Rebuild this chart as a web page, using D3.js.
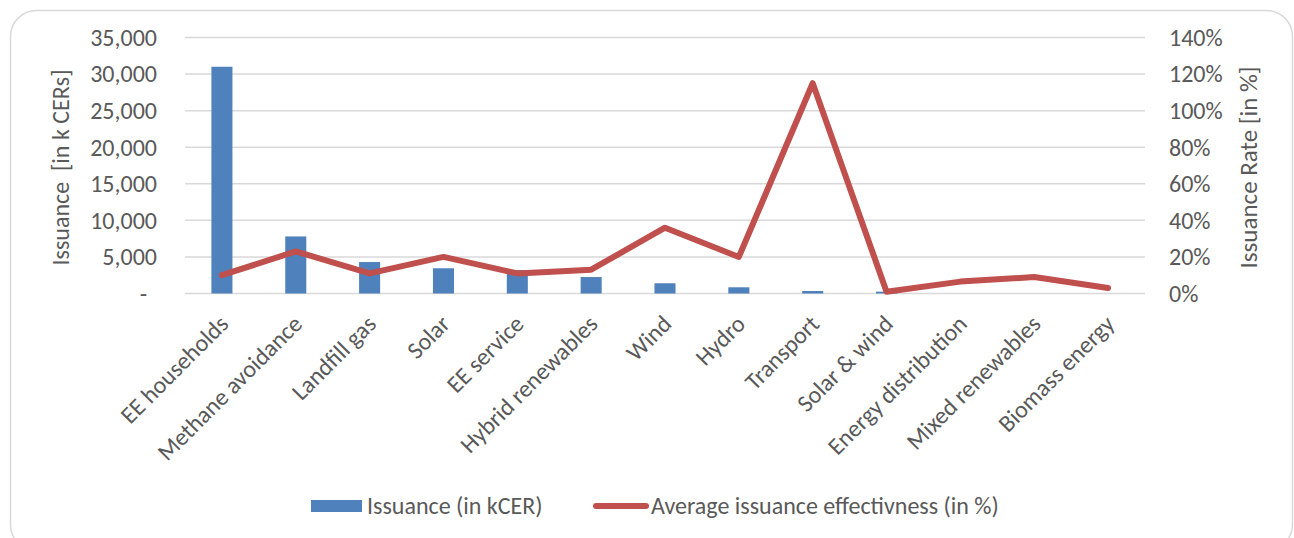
<!DOCTYPE html>
<html>
<head>
<meta charset="utf-8">
<script src="https://cdn.jsdelivr.net/npm/d3@7"></script>
<style>
  html, body { margin: 0; padding: 0; background: #ffffff; }
  svg text { font-family: Carlito, Calibri, Lato, "Open Sans", sans-serif; fill: #595959; }
</style>
</head>
<body>
<svg id="chart" width="1294" height="538"></svg>
<script>
// Sector categories along the x axis
const categories = [
  "EE households", "Methane avoidance", "Landfill gas", "Solar", "EE service",
  "Hybrid renewables", "Wind", "Hydro", "Transport", "Solar & wind",
  "Energy distribution", "Mixed renewables", "Biomass energy"
];

// Issuance per sector, in thousand CERs (left axis)
const issuance = [31000, 7800, 4300, 3450, 3200, 2250, 1400, 850, 340, 250, 0, 0, 0];

// Average issuance effectiveness per sector, in % (right axis)
const effectiveness = [10, 23, 11, 20, 11, 13, 36, 20, 115, 1, 6.5, 9, 3];

// Axis ticks
const leftTicks = [0, 5000, 10000, 15000, 20000, 25000, 30000, 35000];
const rightTicks = [0, 20, 40, 60, 80, 100, 120, 140];

const seriesNames = ["Issuance (in kCER)", "Average issuance effectivness (in %)"];
const axisTitles = ["Issuance  [in k CERs]", "Issuance Rate [in %]"];

const barColor = "#4f81bd";
const lineColor = "#c0504d";
const gridColor = "#d9d9d9";

const svg = d3.select("#chart");

// Outer chart frame
svg.append("rect")
  .attr("x", 10.5).attr("y", 10.5)
  .attr("width", 1282).attr("height", 540)
  .attr("rx", 26).attr("ry", 26)
  .attr("fill", "#ffffff")
  .attr("stroke", "#d9d9d9")
  .attr("stroke-width", 1.5);

const plot = { left: 185, right: 1145, top: 37.5, bottom: 293.5 };

const x = d3.scaleBand()
  .domain(categories)
  .range([plot.left, plot.right])
  .paddingInner(0.715)
  .paddingOuter(0.3575);

const yL = d3.scaleLinear().domain([0, 35000]).range([plot.bottom, plot.top]);
const yR = d3.scaleLinear().domain([0, 140]).range([plot.bottom, plot.top]);

const center = c => x(c) + x.bandwidth() / 2;

// Horizontal gridlines
svg.append("g")
  .selectAll("line")
  .data(leftTicks)
  .join("line")
  .attr("x1", plot.left).attr("x2", plot.right)
  .attr("y1", d => yL(d)).attr("y2", d => yL(d))
  .attr("stroke", gridColor)
  .attr("stroke-width", 1.5);

// Left axis labels
const fmt = d3.format(",");
svg.append("g")
  .selectAll("text")
  .data(leftTicks)
  .join("text")
  .attr("x", d => d === 0 ? 147 : 157)
  .attr("y", d => yL(d))
  .attr("dy", "0.35em")
  .attr("text-anchor", "end")
  .style("font-size", "24px")
  .text(d => d === 0 ? "-" : fmt(d));

// Right axis labels
svg.append("g")
  .selectAll("text")
  .data(rightTicks)
  .join("text")
  .attr("x", 1169)
  .attr("y", d => yR(d))
  .attr("dy", "0.35em")
  .attr("text-anchor", "start")
  .style("font-size", "24px")
  .text(d => d + "%");

// Axis titles
svg.append("text")
  .attr("transform", `translate(69, ${(plot.top + plot.bottom) / 2 + 2}) rotate(-90)`)
  .attr("text-anchor", "middle")
  .style("font-size", "24px")
  .style("white-space", "pre")
  .text(axisTitles[0]);

svg.append("text")
  .attr("transform", `translate(1257, ${(plot.top + plot.bottom) / 2 + 2}) rotate(-90)`)
  .attr("text-anchor", "middle")
  .style("font-size", "25px")
  .text(axisTitles[1]);

// Category labels, rotated
svg.append("g")
  .selectAll("text")
  .data(categories)
  .join("text")
  .attr("transform", d => `translate(${center(d) + 2}, ${plot.bottom + 26}) rotate(-45)`)
  .attr("text-anchor", "end")
  .attr("dy", "0.35em")
  .style("font-size", "24px")
  .text(d => d);

// Issuance bars
svg.append("g")
  .selectAll("rect")
  .data(categories.map((c, i) => ({ c, v: issuance[i] })))
  .join("rect")
  .attr("x", d => x(d.c))
  .attr("width", x.bandwidth())
  .attr("y", d => yL(d.v))
  .attr("height", d => yL(0) - yL(d.v))
  .attr("fill", barColor);

// Effectiveness line
const line = d3.line()
  .x((d, i) => center(categories[i]))
  .y(d => yR(d));

svg.append("path")
  .datum(effectiveness)
  .attr("d", line)
  .attr("fill", "none")
  .attr("stroke", lineColor)
  .attr("stroke-width", 6)
  .attr("stroke-linejoin", "round")
  .attr("stroke-linecap", "round");

// Legend
const legY = 506;
svg.append("rect")
  .attr("x", 311).attr("y", legY - 6)
  .attr("width", 51).attr("height", 12)
  .attr("fill", barColor);
svg.append("text")
  .attr("x", 367).attr("y", legY)
  .attr("dy", "0.35em")
  .style("font-size", "24px")
  .text(seriesNames[0]);

svg.append("line")
  .attr("x1", 596).attr("x2", 646)
  .attr("y1", legY).attr("y2", legY)
  .attr("stroke", lineColor)
  .attr("stroke-width", 6)
  .attr("stroke-linecap", "round");
svg.append("text")
  .attr("x", 651).attr("y", legY)
  .attr("dy", "0.35em")
  .style("font-size", "24px")
  .text(seriesNames[1]);
</script>
</body>
</html>
